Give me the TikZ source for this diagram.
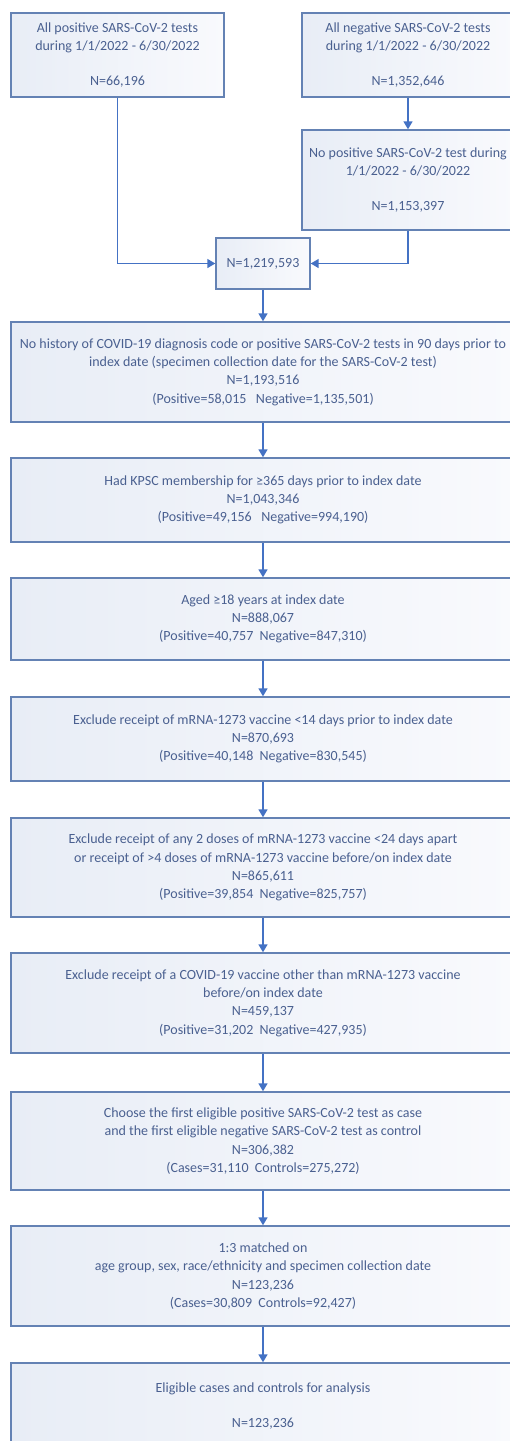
\documentclass[tikz,border=0pt]{standalone}
\usepackage{fontspec}
\setmainfont{Carlito}
\usetikzlibrary{arrows.meta}
\definecolor{bordercol}{HTML}{6482B4}
\definecolor{arrowcol}{HTML}{4472C4}
\definecolor{txtcol}{HTML}{4A6090}
\definecolor{fillL}{HTML}{E8EDF6}
\definecolor{fillR}{HTML}{F9FAFD}
\tikzset{
  box/.style={draw=bordercol, line width=1.4pt, left color=fillL, right color=fillR,
    align=center, text=txtcol, inner sep=0pt, font=\fontsize{14}{18.3}\selectfont},
  conn/.style={draw=arrowcol, line width=1.5pt, -{Triangle[width=9pt,length=8pt]}}
}
\begin{document}
\begin{tikzpicture}[x=1pt,y=-1pt]
\useasboundingbox (0,0) rectangle (510,1441);
\clip (0,0) rectangle (510,1441);
\fill[white] (0,0) rectangle (510,1441);

\node[box, minimum width=213pt, minimum height=84pt] (pos) at (117.5,55)
  {All positive SARS-CoV-2 tests\\ during 1/1/2022 - 6/30/2022\\[16pt] N=66,196};
\node[box, minimum width=212pt, minimum height=84pt] (neg) at (408,55)
  {All negative SARS-CoV-2 tests\\ during 1/1/2022 - 6/30/2022\\[16pt] N=1,352,646};
\node[box, minimum width=212pt, minimum height=100pt] (nopos) at (408,180)
  {No positive SARS-CoV-2 test during\\ 1/1/2022 - 6/30/2022\\[16pt] N=1,153,397};
\node[box, minimum width=94pt, minimum height=51pt] (merge) at (263,263.5)
  {N=1,219,593};

\node[box, minimum width=504pt, minimum height=100pt] (b1) at (263,372)
  {No history of COVID-19 diagnosis code or positive SARS-CoV-2 tests in 90 days prior to\\
   index date (specimen collection date for the SARS-CoV-2 test)\\ N=1,193,516\\
   (Positive=58,015\ \ \ Negative=1,135,501)};
\node[box, minimum width=504pt, minimum height=84pt] (b2) at (263,500)
  {Had KPSC membership for ≥365 days prior to index date\\ N=1,043,346\\
   (Positive=49,156\ \ \ Negative=994,190)};
\node[box, minimum width=504pt, minimum height=82pt] (b3) at (263,619)
  {Aged ≥18 years at index date\\ N=888,067\\ (Positive=40,757\ \ Negative=847,310)};
\node[box, minimum width=504pt, minimum height=84pt] (b4) at (263,739)
  {Exclude receipt of mRNA-1273 vaccine <14 days prior to index date\\ N=870,693\\
   (Positive=40,148\ \ Negative=830,545)};
\node[box, minimum width=504pt, minimum height=99pt] (b5) at (263,867.5)
  {Exclude receipt of any 2 doses of mRNA-1273 vaccine <24 days apart\\
   or receipt of >4 doses of mRNA-1273 vaccine before/on index date\\ N=865,611\\
   (Positive=39,854\ \ Negative=825,757)};
\node[box, minimum width=504pt, minimum height=100pt] (b6) at (263,1003)
  {Exclude receipt of a COVID-19 vaccine other than mRNA-1273 vaccine\\
   before/on index date\\ N=459,137\\ (Positive=31,202\ \ Negative=427,935)};
\node[box, minimum width=504pt, minimum height=98pt] (b7) at (263,1141)
  {Choose the first eligible positive SARS-CoV-2 test as case\\
   and the first eligible negative SARS-CoV-2 test as control\\ N=306,382\\
   (Cases=31,110\ \ Controls=275,272)};
\node[box, minimum width=504pt, minimum height=100pt] (b8) at (263,1276)
  {1:3 matched on\\ age group, sex, race/ethnicity and specimen collection date\\
   N=123,236\\ (Cases=30,809\ \ Controls=92,427)};
\node[box, minimum width=504pt, minimum height=86pt] (b9) at (263,1406)
  {Eligible cases and controls for analysis\\[16pt] N=123,236};

\draw[conn] (pos.south) |- (merge.west);
\draw[conn] (neg.south) -- (nopos.north);
\draw[conn] (nopos.south) |- (merge.east);
\draw[conn] (merge.south) -- (b1.north);
\draw[conn] (b1.south) -- (b2.north);
\draw[conn] (b2.south) -- (b3.north);
\draw[conn] (b3.south) -- (b4.north);
\draw[conn] (b4.south) -- (b5.north);
\draw[conn] (b5.south) -- (b6.north);
\draw[conn] (b6.south) -- (b7.north);
\draw[conn] (b7.south) -- (b8.north);
\draw[conn] (b8.south) -- (b9.north);
\end{tikzpicture}
\end{document}
